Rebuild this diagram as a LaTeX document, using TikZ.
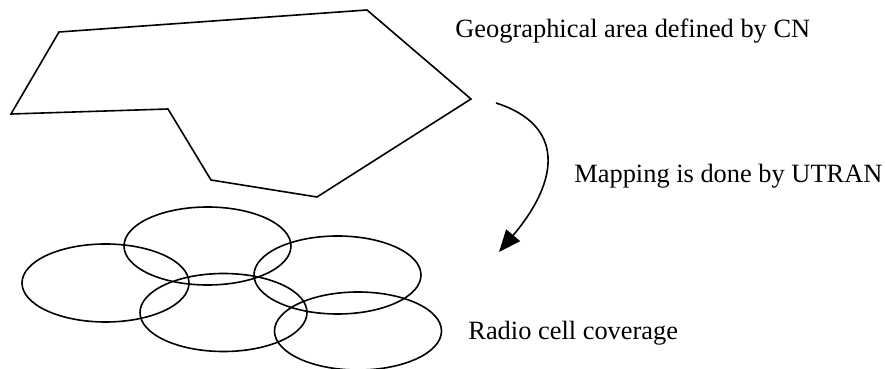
\documentclass[tikz,border=0pt]{standalone}
\usepackage{fontspec}
\setmainfont{Liberation Serif}
\usetikzlibrary{arrows.meta,shapes.geometric}
\tikzset{
  cell/.style={ellipse, draw, line width=0.8pt,
    minimum width=83.5pt, minimum height=39pt, inner sep=0pt},
  caption/.style={anchor=base west, inner sep=0pt,
    font=\fontsize{13.2}{15}\selectfont},
  maparrow/.style={-{Triangle[length=11pt,width=9pt]}, line width=0.8pt},
}
\begin{document}
\begin{tikzpicture}[x=0.5pt,y=-0.5pt]
  \useasboundingbox (0,0) rectangle (885,369);
  % geographical area
  \draw[line width=0.8pt] (59,32) -- (367,10) -- (471,99) -- (317,197)
    -- (211,180) -- (168,109) -- (11,114) -- cycle;
  \node[caption] (geo) at (455,38) {Geographical area defined by CN};

  % radio cells
  \node[cell] (c1) at (105.5,283) {};
  \node[cell] (c2) at (207.5,246) {};
  \node[cell] (c3) at (337.5,275) {};
  \node[cell] (c4) at (223.5,312.5) {};
  \node[cell] (c5) at (358,331) {};
  \node[caption] (radio) at (468,340) {Radio cell coverage};

  % mapping
  \coordinate (mapfrom) at (496,103);
  \coordinate (mapto) at (499,252);
  \draw[maparrow] (mapfrom) .. controls (565,125) and (560,180) .. (mapto);
  \node[caption] (map) at (574,183) {Mapping is done by UTRAN};
\end{tikzpicture}
\end{document}
